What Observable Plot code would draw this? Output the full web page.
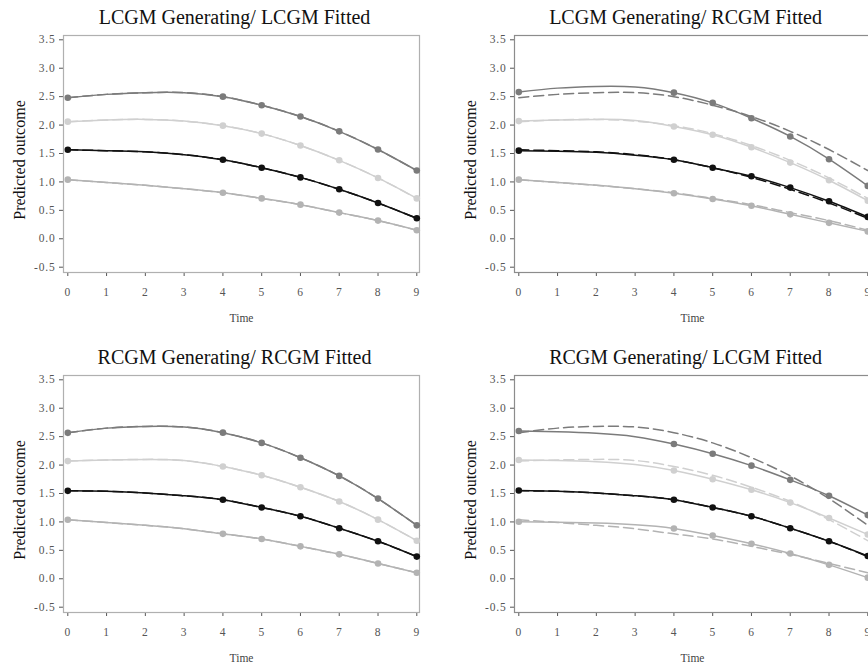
<!DOCTYPE html>
<html>
<head>
<meta charset="utf-8">
<script src="https://cdn.jsdelivr.net/npm/d3@7"></script>
<script src="https://cdn.jsdelivr.net/npm/@observablehq/plot@0.6"></script>
<style>
  body { margin: 0; background: #fff; }
  #wrap { position: relative; width: 868px; height: 664px; overflow: hidden; background: #fff; }
  .panel { position: absolute; width: 434px; height: 325px; }
  .panel svg { max-width: none !important; width: 434px; height: 325px; display: block; }
</style>
</head>
<body>
<div id="wrap"></div>
<script>
// ---- data ----
const times = [0, 1, 2, 3, 4, 5, 6, 7, 8, 9];
const markerTimes = [0, 4, 5, 6, 7, 8, 9];
const classNames = ["Class 1", "Class 2", "Class 3", "Class 4"];
const classColors = ["#7b7b7b", "#d0d0d0", "#111111", "#b3b3b3"];
const yTicks = [-0.5, 0, 0.5, 1, 1.5, 2, 2.5, 3, 3.5];
const panelTitles = [
  "LCGM Generating/ LCGM Fitted",
  "LCGM Generating/ RCGM Fitted",
  "RCGM Generating/ RCGM Fitted",
  "RCGM Generating/ LCGM Fitted"
];

// generating (true) trajectories, dashed
const lcgmGenerating = [
  [2.48, 2.54, 2.57, 2.57, 2.50, 2.35, 2.15, 1.89, 1.57, 1.20],
  [2.06, 2.09, 2.10, 2.07, 1.99, 1.85, 1.64, 1.38, 1.07, 0.71],
  [1.565, 1.55, 1.53, 1.48, 1.39, 1.25, 1.08, 0.87, 0.63, 0.36],
  [1.04, 0.99, 0.94, 0.88, 0.81, 0.71, 0.60, 0.46, 0.32, 0.15]
];
const rcgmGenerating = [
  [2.567, 2.65, 2.68, 2.67, 2.57, 2.39, 2.13, 1.81, 1.41, 0.94],
  [2.07, 2.09, 2.10, 2.08, 1.975, 1.82, 1.61, 1.36, 1.04, 0.67],
  [1.547, 1.54, 1.51, 1.46, 1.39, 1.254, 1.10, 0.89, 0.66, 0.39],
  [1.037, 0.99, 0.94, 0.88, 0.79, 0.70, 0.57, 0.43, 0.27, 0.105]
];

// fitted trajectories, solid with markers
const fitLcgmLcgm = [
  [2.48, 2.54, 2.57, 2.57, 2.50, 2.35, 2.15, 1.89, 1.57, 1.20],
  [2.06, 2.09, 2.10, 2.07, 1.99, 1.85, 1.64, 1.38, 1.07, 0.71],
  [1.565, 1.55, 1.53, 1.48, 1.39, 1.25, 1.08, 0.87, 0.63, 0.36],
  [1.04, 0.99, 0.94, 0.88, 0.81, 0.71, 0.60, 0.46, 0.32, 0.15]
];
const fitLcgmRcgm = [
  [2.58, 2.65, 2.68, 2.67, 2.57, 2.39, 2.12, 1.80, 1.40, 0.93],
  [2.07, 2.09, 2.10, 2.08, 1.975, 1.83, 1.61, 1.34, 1.03, 0.67],
  [1.55, 1.54, 1.52, 1.47, 1.39, 1.25, 1.10, 0.90, 0.66, 0.385],
  [1.04, 0.99, 0.94, 0.88, 0.80, 0.70, 0.58, 0.43, 0.28, 0.13]
];
const fitRcgmRcgm = [
  [2.567, 2.65, 2.68, 2.67, 2.57, 2.39, 2.13, 1.81, 1.41, 0.94],
  [2.07, 2.09, 2.10, 2.08, 1.975, 1.82, 1.61, 1.36, 1.04, 0.67],
  [1.547, 1.54, 1.51, 1.46, 1.39, 1.254, 1.10, 0.89, 0.66, 0.39],
  [1.037, 0.99, 0.94, 0.88, 0.79, 0.70, 0.57, 0.43, 0.27, 0.105]
];
const fitRcgmLcgm = [
  [2.60, 2.585, 2.56, 2.50, 2.37, 2.20, 1.99, 1.74, 1.46, 1.12],
  [2.09, 2.08, 2.06, 2.01, 1.905, 1.75, 1.565, 1.34, 1.07, 0.78],
  [1.553, 1.54, 1.51, 1.46, 1.39, 1.254, 1.10, 0.89, 0.66, 0.40],
  [1.002, 0.996, 0.98, 0.95, 0.885, 0.76, 0.615, 0.445, 0.245, 0.02]
];

// ---- drawing ----
function rows(series) {
  return series.flatMap((vals, k) => vals.map((v, i) => ({time: times[i], value: v, cls: classNames[k]})));
}

function makePanel(title, fitted, generating, frameColor) {
  const fit = rows(fitted);
  const gen = rows(generating);
  const pts = fit.filter(d => markerTimes.includes(d.time));
  const svg = Plot.plot({
    width: 434,
    height: 325,
    marginLeft: 63,
    marginRight: 15,
    marginTop: 35,
    marginBottom: 53,
    style: {background: "#fff", color: "#555", fontFamily: "'Liberation Serif', 'Times New Roman', serif", fontSize: "11.5px", maxWidth: "none"},
    x: {domain: [0, 9], insetLeft: 4.3, insetRight: 2.7, ticks: times, tickFormat: d => String(d), tickSize: 4, tickPadding: 11, label: null},
    y: {domain: [-0.5, 3.5], insetTop: 4.3, insetBottom: 5.3, ticks: yTicks, tickFormat: d => d.toFixed(1), tickSize: 4, tickPadding: 4, label: null},
    color: {domain: classNames, range: classColors},
    marks: [
      Plot.frame({stroke: frameColor, strokeWidth: 1.2}),
      Plot.line(gen, {x: "time", y: "value", z: "cls", stroke: "cls", strokeWidth: 1.5, strokeDasharray: "10,5", curve: "natural"}),
      Plot.line(fit, {x: "time", y: "value", z: "cls", stroke: "cls", strokeWidth: 1.5, curve: "natural"}),
      Plot.dot(pts, {x: "time", y: "value", fill: "cls", r: 3.3}),
      Plot.text([title], {text: d => d, frameAnchor: "top", lineAnchor: "bottom", dx: -7, dy: -11.7, fontSize: 20, fill: "#111"}),
      Plot.text(["Predicted outcome"], {text: d => d, frameAnchor: "left", rotate: -90, lineAnchor: "bottom", textAnchor: "middle", dx: -39, dy: 6, fontSize: 16, fill: "#111"}),
      Plot.text(["Time"], {text: d => d, frameAnchor: "bottom", lineAnchor: "bottom", dy: 49, fontSize: 11.5, fill: "#444"})
    ]
  });
  svg.querySelectorAll('[aria-label$="tick label"] text').forEach(t => t.style.letterSpacing = "0.8px");
  return svg;
}

const wrap = document.getElementById("wrap");
const fits = [fitLcgmLcgm, fitLcgmRcgm, fitRcgmRcgm, fitRcgmLcgm];
const gens = [lcgmGenerating, lcgmGenerating, rcgmGenerating, rcgmGenerating];
const frameColors = ["#b0b0b0", "#8c8c8c", "#b0b0b0", "#8c8c8c"];
const positions = [[0, 0], [451, 0], [0, 340], [451, 340]];
panelTitles.forEach((title, i) => {
  const div = document.createElement("div");
  div.className = "panel";
  div.style.left = positions[i][0] + "px";
  div.style.top = positions[i][1] + "px";
  div.appendChild(makePanel(title, fits[i], gens[i], frameColors[i]));
  wrap.appendChild(div);
});
</script>
</body>
</html>
